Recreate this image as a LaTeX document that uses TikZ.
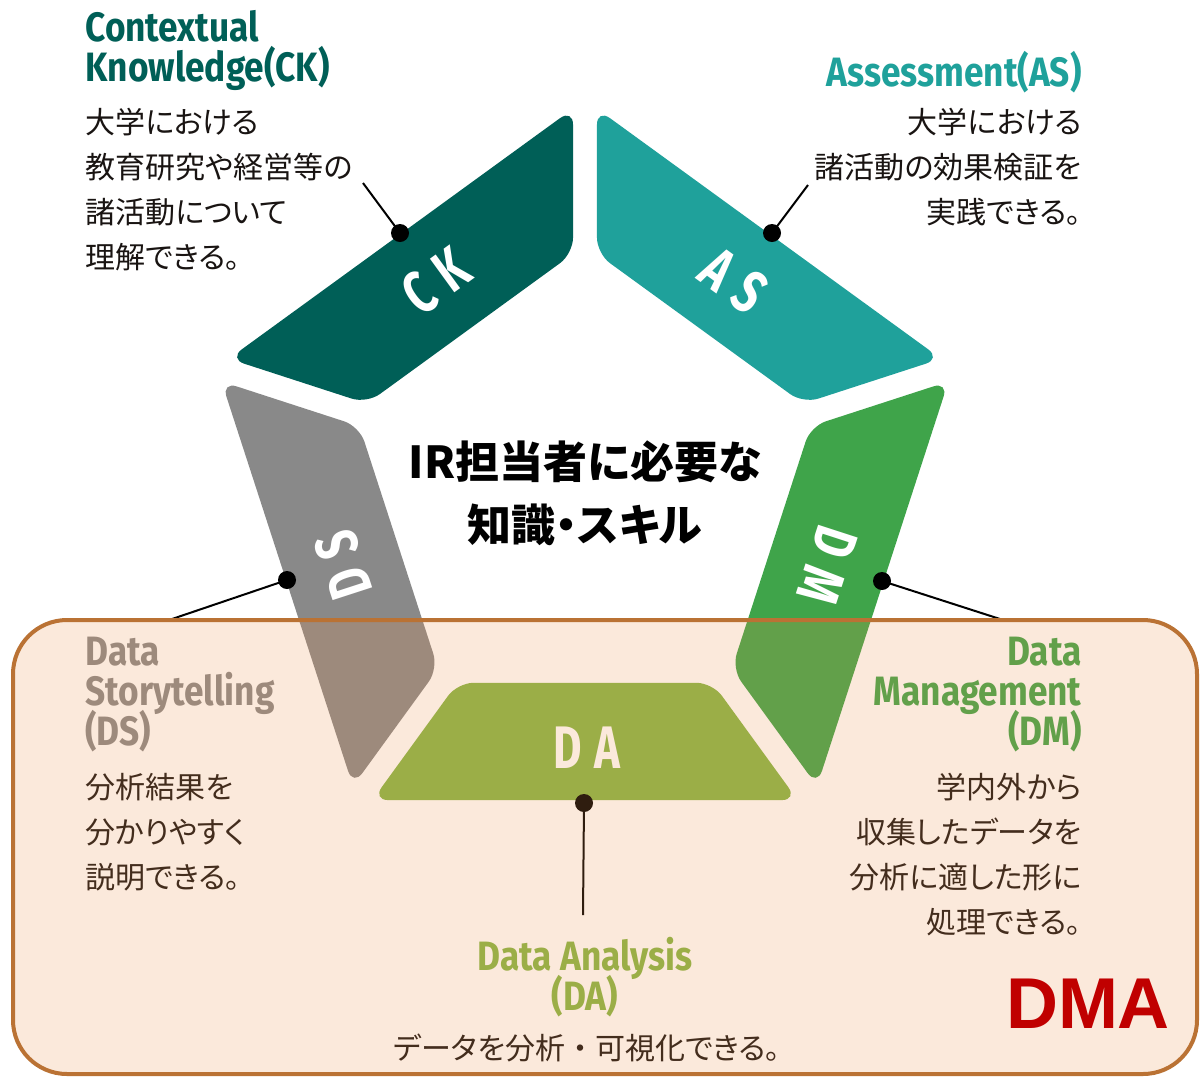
\documentclass[tikz,border=0pt]{standalone}
\usepackage{fontspec}
\setmainfont{Noto Sans CJK JP}[RawFeature=+palt]
\newfontfamily\fullfont{Noto Sans CJK JP}
\newfontfamily\titlefont{Noto Sans CJK JP Black}[RawFeature=+palt]
\newfontfamily\condfont[FakeStretch=0.86]{Fira Sans}
\newfontfamily\labfont[FakeStretch=0.73]{Fira Sans}
\newfontfamily\dmafont{Liberation Sans}
\usetikzlibrary{calc}
\setlength{\lineskiplimit}{-100pt}
\definecolor{ckcol}{RGB}{0,95,87}
\definecolor{ascol}{RGB}{31,161,155}
\definecolor{dmcol}{RGB}{63,164,74}
\definecolor{dscol}{RGB}{137,137,137}
\definecolor{dacol}{RGB}{134,182,70}
\definecolor{boxline}{RGB}{186,114,52}
\definecolor{tint}{RGB}{239,145,75}
\definecolor{dmared}{RGB}{192,0,0}
\definecolor{txt}{RGB}{25,20,18}
\tikzset{
  segshape/.style={rounded corners=8pt},
  seglabel/.style={text=white, font=\labfont\bfseries\fontsize{30}{30}\selectfont, inner sep=0pt},
  head/.style={font=\condfont\bfseries\fontsize{20.5}{20}\selectfont, inner sep=0pt},
  body/.style={font=\fontsize{15}{22.5}\selectfont, text=txt, inner sep=0pt},
  titletext/.style={font=\titlefont\fontsize{22}{31.5}\selectfont, text=black, inner sep=0pt, align=center},
  dotnode/.style={circle, fill=black, inner sep=0pt, minimum size=9pt},
  conn/.style={draw=black, line width=1pt}
}
\begin{document}
\begin{tikzpicture}[x=0.5pt, y=-0.5pt]
\fill[white] (0,0) rectangle (1200,1077);
\useasboundingbox (0,0) rectangle (1200,1077);
\foreach \a in {18,90,162,234,306} {
  \coordinate (O\a) at ({585+387*cos(\a)},{487-387*sin(\a)});
  \coordinate (I\a) at ({585+242*cos(\a)},{487-242*sin(\a)});
}
% segments
\fill[segshape, ascol] ($(O18)!7.4pt!(O90)$) -- ($(O90)!7.4pt!(O18)$) -- ($(I90)!7.4pt!(I18)$) -- ($(I18)!7.4pt!(I90)$) -- cycle;
\fill[segshape, ckcol] ($(O90)!7.4pt!(O162)$) -- ($(O162)!7.4pt!(O90)$) -- ($(I162)!7.4pt!(I90)$) -- ($(I90)!7.4pt!(I162)$) -- cycle;
\fill[segshape, dscol] ($(O162)!7.4pt!(O234)$) -- ($(O234)!7.4pt!(O162)$) -- ($(I234)!7.4pt!(I162)$) -- ($(I162)!7.4pt!(I234)$) -- cycle;
\fill[segshape, dacol] ($(O234)!7.4pt!(O306)$) -- ($(O306)!7.4pt!(O234)$) -- ($(I306)!7.4pt!(I234)$) -- ($(I234)!7.4pt!(I306)$) -- cycle;
\fill[segshape, dmcol] ($(O306)!7.4pt!(O18)$) -- ($(O18)!7.4pt!(O306)$) -- ($(I18)!7.4pt!(I306)$) -- ($(I306)!7.4pt!(I18)$) -- cycle;
% segment labels
\node[seglabel, rotate=36] (ckl) at (436,281) {C\kern0.22em K};
\node[seglabel, rotate=-36] (asl) at (734,281) {A\kern0.22em S};
\node[seglabel, rotate=108] (dsl) at (343,565) {D\kern0.22em S};
\node[seglabel, rotate=-108] (dml) at (827,565) {D\kern0.22em M};
\node[seglabel] (dal) at (587,748) {D\kern0.22em A};
% title
\node[titletext] (ttl) at (585,493) {IR担当者に必要な\\知識・スキル};
% connectors
\node[dotnode] (ckd) at (400,233) {};
\coordinate (cke) at (363,183);
\draw[conn] (ckd.center) -- (cke);
\node[dotnode] (asd) at (772,233) {};
\coordinate (ase) at (808,185);
\draw[conn] (asd.center) -- (ase);
\node[dotnode] (dsd) at (287,580) {};
\coordinate (dse) at (172,619);
\draw[conn] (dsd.center) -- (dse);
\node[dotnode] (dmd) at (882,581) {};
\coordinate (dme) at (1000,619);
\draw[conn] (dmd.center) -- (dme);
\node[dotnode] (dad) at (584,803) {};
\coordinate (dae) at (583,915);
\draw[conn] (dad.center) -- (dae);
% texts
\node[head, text=ckcol, anchor=north west, align=left] (ckh) at (85,10) {Contextual\\Knowledge(CK)};
\node[body, anchor=north west, align=left] (ckb) at (85,108) {大学における\\教育研究や経営等の\\諸活動について\\理解できる。};
\node[head, text=ascol, anchor=north east] (ash) at (1082,51) {Assessment(AS)};
\node[body, anchor=north east, align=right] (asb) at (1082,108) {大学における\\諸活動の効果検証を\\実践できる。};
\node[head, text=dscol, anchor=north west, align=left] (dsh) at (85,637) {Data\\Storytelling\\(DS)};
\node[body, anchor=north west, align=left] (dsb) at (85,773) {分析結果を\\分かりやすく\\説明できる。};
\node[head, text=dmcol, anchor=north east, align=right] (dmh) at (1082,637) {Data\\Management\\(DM)};
\node[body, anchor=north east, align=right] (dmb) at (1082,773) {学内外から\\収集したデータを\\分析に適した形に\\処理できる。};
\node[head, text=dacol, anchor=north, align=center] (dah) at (585,937) {Data Analysis\\(DA)};
\node[body, anchor=north] (dab) at (587,1034) {データを分析{\fullfont ・}可視化できる。};
% DMA box overlay
\draw[draw=boxline, line width=2pt, fill=tint, fill opacity=0.2, rounded corners=27pt] (13,620) rectangle (1197,1074);
\node[font=\dmafont\bfseries\fontsize{36}{36}\selectfont, text=dmared, inner sep=0pt] (dma) at (1088,1004) {DMA};
\end{tikzpicture}
\end{document}
